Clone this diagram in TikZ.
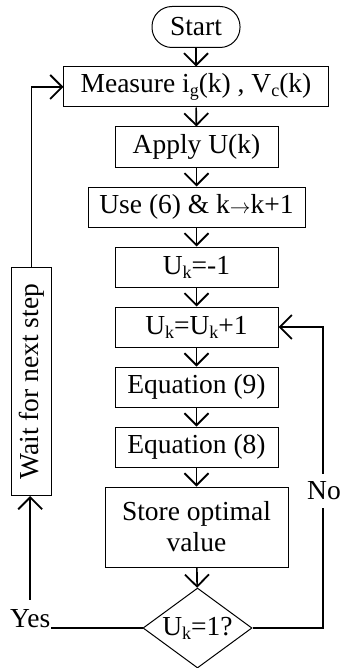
\documentclass[tikz,border=0pt]{standalone}
\usepackage{fontspec}
\setmainfont{Liberation Serif}
\usetikzlibrary{arrows.meta,shapes.geometric}
\newcommand\sbx[1]{\raisebox{-4bp}{\fontsize{18bp}{18bp}\selectfont #1}}
\newcommand\rarr{{\fontsize{22bp}{22bp}\selectfont$\rightarrow$}}
\begin{document}
\begin{tikzpicture}[x=1bp,y=-1bp,
  txt/.style={font=\fontsize{27.5bp}{31bp}\selectfont},
  box/.style={txt,draw,line width=1bp,minimum height=40bp,inner sep=0pt},
  arr/.style={line width=1.6bp,-{Straight Barb[length=12bp,width=24bp,line width=1.8bp]}},
  ln/.style={line width=1.6bp}]
\useasboundingbox (0,0) rectangle (341,668);
\node[box,rounded corners=20bp,minimum width=88bp,minimum height=41bp] (start) at (196,27) {Start};
\node[box,minimum width=264bp] (meas) at (196,87) {Measure i\sbx{g}(k) , V\sbx{c}(k)};
\node[box,minimum width=163bp] (apply) at (196.5,147) {Apply U(k)};
\node[box,minimum width=217bp] (use) at (196.5,207) {Use (6) \& k\rarr k+1};
\node[box,minimum width=163bp] (u1) at (196.5,267) {U\sbx{k}=-1};
\node[box,minimum width=163bp] (u2) at (196.5,327) {U\sbx{k}=U\sbx{k}+1};
\node[box,minimum width=163bp] (e9) at (196.5,387) {Equation (9)};
\node[box,minimum width=163bp] (e8) at (196.5,447) {Equation (8)};
\node[box,minimum width=183bp,minimum height=80bp,align=center] (store) at (196.5,527) {Store optimal\\value};
\node[txt,draw,diamond,shape aspect=1.36,line width=1bp,minimum width=109bp,minimum height=80bp,inner sep=0pt] (dec) at (197.5,628) {U\sbx{k}=1?};
\node[box,minimum width=228bp,minimum height=39bp,rotate=90] (wait) at (31.5,381.5) {Wait for next step};
\node[txt,anchor=base west,inner xsep=1bp,inner ysep=9bp] (yes) at (9,627) {Yes};
\coordinate (rc) at (323,628);
\draw[arr] (start) -- (meas);
\draw[arr] (meas) -- (apply);
\draw[arr] (apply) -- (use);
\draw[arr] (use) -- (u1);
\draw[arr] (u1) -- (u2);
\draw[arr] (u2) -- (e9);
\draw[arr] (e9) -- (e8);
\draw[arr] (e8) -- (store);
\draw[arr] (store) -- (dec);
\draw[ln] (dec.west) -- (dec.west -| yes.east);
\draw[arr] (yes.north) -- (yes.north |- wait.west);
\draw[arr] (wait.east) |- (meas.west);
\draw[arr] (dec.east) -- (rc) |- (u2.east);
\node[txt,fill=white,inner xsep=0bp,inner ysep=8bp] (no) at (324,491) {No};
\end{tikzpicture}
\end{document}
